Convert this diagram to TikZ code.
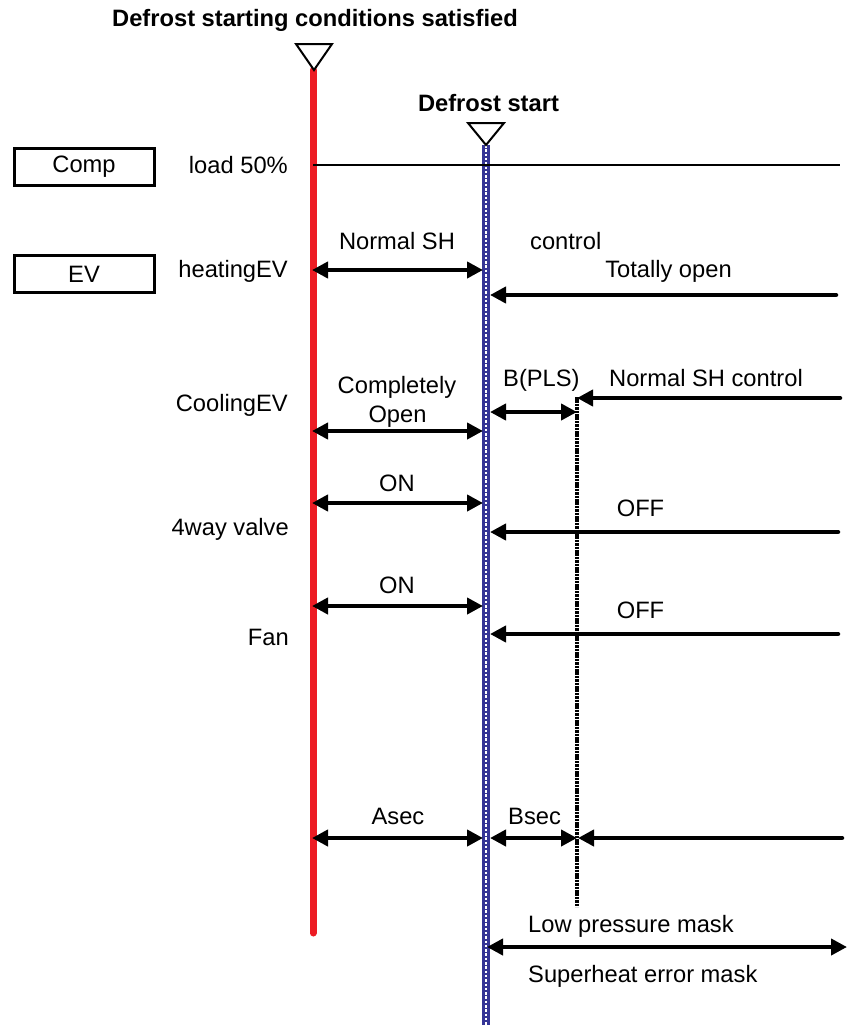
\documentclass[tikz,border=0pt]{standalone}
\usepackage{fontspec}
\setmainfont{Liberation Sans}
\usetikzlibrary{arrows.meta}
\definecolor{defred}{RGB}{237,28,36}
\definecolor{defblue}{RGB}{52,52,150}
\begin{document}
\begin{tikzpicture}[x=1pt,y=-1pt,
  every node/.style={font=\fontsize{23.7}{28}\selectfont, inner sep=0pt},
  lbl/.style={anchor=base},
  lbll/.style={anchor=base west},
  lblr/.style={anchor=base east},
  ttl/.style={anchor=base, font=\fontsize{23.7}{28}\selectfont\bfseries},
  sigbox/.style={draw, line width=3pt, minimum width=140pt, minimum height=37pt},
  tip/.tip={Triangle[length=16pt,width=16pt]},
  dblarr/.style={line width=4.5pt, tip-tip},
  larr/.style={line width=4.5pt, tip-, line cap=round},
  redline/.style={draw=defred, line width=7pt, line cap=round},
  blueline/.style={draw=defblue, line width=8.5pt},
  bluedash/.style={draw=white, line width=1.3pt, dash pattern=on 2.5pt off 1.8pt},
  dotline/.style={line width=3.2pt, dash pattern=on 2.6pt off 0.8pt},
  trimark/.style={draw, line width=2pt, fill=white, line join=miter},
  thinline/.style={line width=1.4pt}]
\useasboundingbox (0,0) rectangle (848,1028);

% key coordinates
\coordinate (rt) at (313,70);  \coordinate (rb) at (313,933);
\coordinate (bt) at (486,145); \coordinate (bb) at (486,1025);
\coordinate (dt) at (577,397); \coordinate (db) at (577,907);
\coordinate (t1a) at (296,44);  \coordinate (t1b) at (332,44);  \coordinate (t1c) at (314,70);
\coordinate (t2a) at (468,123); \coordinate (t2b) at (504,123); \coordinate (t2c) at (486,145);

% time lines
\draw[redline] (rt) -- (rb);
\draw[blueline] (bt) -- (bb);
\draw[bluedash] (bt) -- (bb);
\draw[dotline] (dt) -- (db);
\draw[trimark] (t1a) -- (t1b) -- (t1c) -- cycle;
\draw[trimark] (t2a) -- (t2b) -- (t2c) -- cycle;

% titles
\node[ttl] (title) at (315,26) {Defrost starting conditions satisfied};
\node[ttl] (dstart) at (488.5,111) {Defrost start};

% Comp
\node[sigbox] (comp) at (84,166.5) {Comp};
\node[lblr] (load) at (288,173) {load 50\%};
\coordinate (cl1) at (313,165); \coordinate (cl2) at (840,165);
\draw[thinline] (cl1) -- (cl2);

% EV / heating
\node[sigbox] (ev) at (84,274) {EV};
\node[lblr] (heat) at (288,277) {heatingEV};
\node[lbl] (nsh) at (397,249) {Normal SH};
\node[lbll] (ctrl) at (530,249) {control};
\node[lbl] (topen) at (668.5,277) {Totally open};
\coordinate (h1) at (312,270); \coordinate (h2) at (483,270);
\draw[dblarr] (h1) -- (h2);
\coordinate (to1) at (836,295); \coordinate (to2) at (490,295);
\draw[larr] (to2) -- (to1);

% Cooling EV
\node[lblr] (cool) at (288,411) {CoolingEV};
\node[lbl] (compl) at (397,393) {Completely};
\node[lbl] (open) at (397.5,422) {Open};
\node[lbll] (bpls) at (503,386) {B(PLS)};
\node[lbll] (nshc) at (609,386) {Normal SH control};
\coordinate (co1) at (312,431); \coordinate (co2) at (483,431);
\draw[dblarr] (co1) -- (co2);
\coordinate (bp1) at (490,412); \coordinate (bp2) at (577,412);
\draw[dblarr] (bp1) -- (bp2);
\coordinate (ns1) at (840,398); \coordinate (ns2) at (577,398);
\draw[larr] (ns2) -- (ns1);

% 4way valve
\node[lblr] (way) at (289,535) {4way valve};
\node[lbl] (on1) at (397,491) {ON};
\node[lbl] (off1) at (640.5,516) {OFF};
\coordinate (w1) at (312,503); \coordinate (w2) at (483,503);
\draw[dblarr] (w1) -- (w2);
\coordinate (wo1) at (838,532); \coordinate (wo2) at (490,532);
\draw[larr] (wo2) -- (wo1);

% Fan
\node[lblr] (fan) at (289,645) {Fan};
\node[lbl] (on2) at (397,593) {ON};
\node[lbl] (off2) at (640.5,618) {OFF};
\coordinate (f1) at (312,606); \coordinate (f2) at (483,606);
\draw[dblarr] (f1) -- (f2);
\coordinate (fo1) at (838,634); \coordinate (fo2) at (490,634);
\draw[larr] (fo2) -- (fo1);

% timers
\node[lbl] (asec) at (398,824) {Asec};
\node[lbll] (bsec) at (508,824) {Bsec};
\coordinate (a1) at (312,838); \coordinate (a2) at (483,838);
\draw[dblarr] (a1) -- (a2);
\coordinate (bs1) at (490,838); \coordinate (bs2) at (577,838);
\draw[dblarr] (bs1) -- (bs2);
\coordinate (bo1) at (842,838); \coordinate (bo2) at (578,838);
\draw[larr] (bo2) -- (bo1);

% masks
\node[lbll] (lpm) at (528,932) {Low pressure mask};
\node[lbll] (shm) at (528,982) {Superheat error mask};
\coordinate (m1) at (487,947); \coordinate (m2) at (847,947);
\draw[dblarr] (m1) -- (m2);
\end{tikzpicture}
\end{document}
